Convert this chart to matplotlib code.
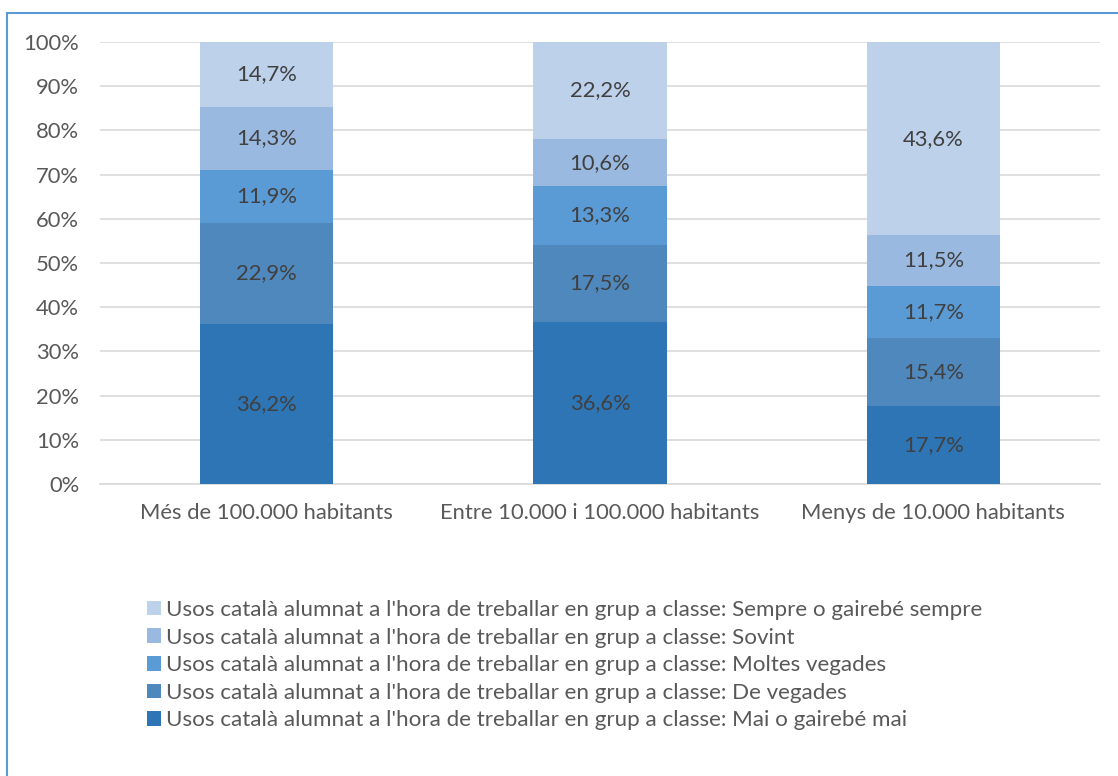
import matplotlib
matplotlib.use("Agg")
import matplotlib.pyplot as plt
from matplotlib.patches import Rectangle, Patch
import numpy as np

plt.rcParams['font.family'] = ['Lato', 'DejaVu Sans']

categories = ["Més de 100.000 habitants", "Entre 10.000 i 100.000 habitants", "Menys de 10.000 habitants"]
series_names = [
    "Usos català alumnat a l'hora de treballar en grup a classe: Mai o gairebé mai",
    "Usos català alumnat a l'hora de treballar en grup a classe: De vegades",
    "Usos català alumnat a l'hora de treballar en grup a classe: Moltes vegades",
    "Usos català alumnat a l'hora de treballar en grup a classe: Sovint",
    "Usos català alumnat a l'hora de treballar en grup a classe: Sempre o gairebé sempre",
]
mai = [36.2, 36.6, 17.7]
de_vegades = [22.9, 17.5, 15.4]
moltes = [11.9, 13.3, 11.7]
sovint = [14.3, 10.6, 11.5]
sempre = [14.7, 22.2, 43.6]
series = [mai, de_vegades, moltes, sovint, sempre]
colors = ["#2E75B6", "#4F88BD", "#5B9BD5", "#9AB9E0", "#BDD1EB"]
yticks = [0, 10, 20, 30, 40, 50, 60, 70, 80, 90, 100]

W, H = 1118, 776
fig = plt.figure(figsize=(W / 100, H / 100), dpi=100)
ax = fig.add_axes([100 / W, 1 - 484 / H, 1000 / W, 442 / H])

x = np.arange(len(categories))
bottom = np.zeros(len(categories))
for vals, col, name in zip(series, colors, series_names):
    v = np.array(vals)
    ax.bar(x, v, width=0.4, bottom=bottom, color=col, zorder=3, label=name)
    for xi, b, vi in zip(x, bottom, v):
        ax.text(xi, b + vi / 2, f"{vi:.1f}%".replace(".", ","), ha="center", va="center",
                fontsize=15.8, color="#404040", zorder=4)
    bottom += v

ax.set_xlim(-0.5, 2.5)
ax.set_ylim(0, 100)
ax.set_yticks(yticks)
ax.set_yticklabels([f"{t}%" for t in yticks])
ax.set_xticks(x)
ax.set_xticklabels(categories)
ax.tick_params(axis="both", length=0, labelsize=15.8, labelcolor="#595959")
ax.tick_params(axis="x", pad=14)
ax.tick_params(axis="y", pad=15)
ax.grid(axis="y", color="#D9D9D9", linewidth=1.2, zorder=0)
for s in ["top", "right", "left"]:
    ax.spines[s].set_visible(False)
ax.spines["bottom"].set_color("#D9D9D9")
ax.spines["bottom"].set_linewidth(1.2)

handles = [Patch(facecolor=c, edgecolor="none") for c in colors[::-1]]
labels = series_names[::-1]
leg = fig.legend(handles, labels, loc="upper left", bbox_to_anchor=(138 / W, 1 - 591 / H),
                 frameon=False, fontsize=16.1, labelcolor="#595959", handlelength=0.62,
                 handleheight=0.62, handletextpad=0.22, labelspacing=0.34, borderaxespad=0)

fig.patches.append(Rectangle((7 / W, -0.1), 1.2, (1 - 13 / H) + 0.1, transform=fig.transFigure,
                             fill=False, edgecolor="#5B9BD5", linewidth=1.5, zorder=10))

fig.savefig("out.png", dpi=100)
